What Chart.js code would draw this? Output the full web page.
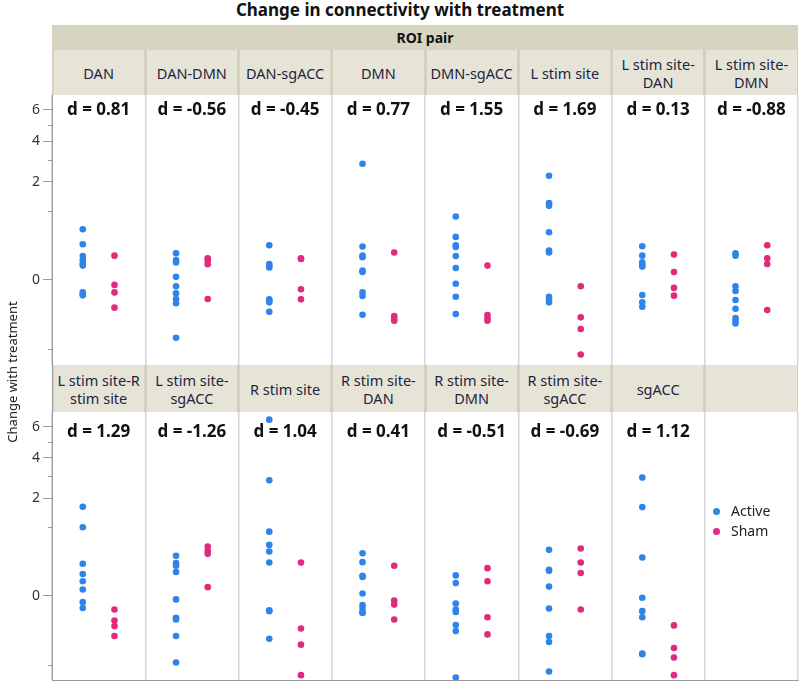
<!DOCTYPE html>
<html>
<head>
<meta charset="utf-8">
<script src="https://cdn.jsdelivr.net/npm/chart.js@4.4.1/dist/chart.umd.min.js"></script>
<style>
    body { margin: 0; background: #fff; font-family: "Noto Sans", sans-serif; }
    #page { position: relative; width: 800px; height: 683px; overflow: hidden; }
    .abs { position: absolute; }
    #title { left: 0; top: 0; width: 800px; text-align: center; font-weight: bold; font-size: 17px; line-height: 20px; color: #111; }
    #roiBand { left: 52px; top: 25px; width: 746px; height: 25px; background: #d7d4c1; text-align: center; font-weight: bold; font-size: 14px; line-height: 25px; color: #111; }
    .hdrRow { left: 52px; width: 746px; background: #d3d0bd; }
    .hdrCell { position: absolute; top: 0; bottom: 0; background: #e6e4d7; display: flex; align-items: center; justify-content: center; text-align: center; font-size: 14.5px; line-height: 18px; color: #1e2440; }
    .plot { left: 0; width: 800px; }
    #axisGap { left: 52px; top: 365px; width: 1px; height: 47px; background: #9a9a9a; }
    #yTitle { left: -88px; top: 362px; width: 200px; height: 20px; line-height: 20px; text-align: center; font-size: 13px; color: #222; transform: rotate(-90deg); }
    #legend { left: 713px; top: 501px; font-size: 14px; line-height: 20px; color: #222; }
    .legItem { display: flex; align-items: center; }
    .legDot { width: 7px; height: 7px; border-radius: 50%; margin-right: 11px; }
</style>
</head>
<body>
<div id="page">
    <div id="title" class="abs">Change in connectivity with treatment</div>
    <div id="roiBand" class="abs">ROI pair</div>
    <div id="hdrTop" class="abs hdrRow" style="top:50px;height:45px;"></div>
    <div id="hdrBottom" class="abs hdrRow" style="top:365px;height:47px;"></div>
    <div id="axisGap" class="abs"></div>
    <div class="abs plot" style="top:95px;height:270px;"><canvas id="rowTop"></canvas></div>
    <div class="abs plot" style="top:412px;height:269px;"><canvas id="rowBottom"></canvas></div>
    <div id="yTitle" class="abs">Change with treatment</div>
    <div id="legend" class="abs"></div>
</div>
<script>
(function() {
    'use strict';

    // ROI pairs, one panel each
    const topPanels = ['DAN', 'DAN-DMN', 'DAN-sgACC', 'DMN', 'DMN-sgACC', 'L stim site', 'L stim site-DAN', 'L stim site-DMN'];
    const bottomPanels = ['L stim site-R stim site', 'L stim site-sgACC', 'R stim site', 'R stim site-DAN', 'R stim site-DMN', 'R stim site-sgACC', 'sgACC'];

    // effect sizes shown in each panel
    const topD = [0.81, -0.56, -0.45, 0.77, 1.55, 1.69, 0.13, -0.88];
    const bottomD = [1.29, -1.26, 1.04, 0.41, -0.51, -0.69, 1.12];

    const groups = ['Active', 'Sham'];

    // change with treatment, per panel
    const topActive = [
        [0.534, 0.265, 0.120, 0.083, 0.058, 0.043, -0.032, -0.041, -0.049],
        [0.148, 0.083, 0.063, 0.002, -0.008, -0.037, -0.075, -0.113, -0.692],
        [0.250, 0.053, 0.041, 0.032, -0.078, -0.092, -0.104, -0.209],
        [2.80, 0.231, 0.123, 0.107, 0.018, 0.013, -0.032, -0.053, -0.250],
        [0.835, 0.385, 0.250, 0.227, 0.120, 0.030, -0.003, -0.058, -0.241],
        [2.253, 1.224, 1.140, 0.473, 0.179, 0.156, -0.058, -0.078, -0.104],
        [0.236, 0.123, 0.065, 0.047, 0.037, -0.047, -0.104, -0.148],
        [0.148, 0.123, -0.008, -0.025, -0.083, -0.171, -0.301, -0.344, -0.391]
    ];
    const topSham = [
        [0.123, -0.005, -0.032, -0.159],
        [0.098, 0.078, 0.051, -0.075],
        [0.098, 0.092, -0.018, -0.078],
        [0.156, -0.270, -0.306, -0.344],
        [0.043, -0.255, -0.306, -0.344],
        [-0.008, -0.290, -0.500, -1.151],
        [0.134, 0.013, -0.013, -0.051],
        [0.250, 0.098, 0.053, -0.187]
    ];
    const bottomActive = [
        [1.662, 0.982, 0.213, 0.098, 0.043, 0.008, -0.009, -0.032],
        [0.333, 0.222, 0.187, 0.117, -0.003, -0.104, -0.120, -0.344, -0.944],
        [6.52, 2.80, 0.862, 0.542, 0.409, 0.231, -0.045, -0.051, -0.391],
        [0.379, 0.236, 0.083, 0.073, 0.001, -0.019, -0.032, -0.056, -0.063],
        [0.086, 0.033, -0.013, -0.041, -0.056, -0.183, -0.265, -1.411],
        [0.441, 0.141, 0.130, 0.017, -0.035, -0.344, -0.453, -1.212],
        [2.932, 1.649, 0.306, -0.001, -0.051, -0.098, -0.709, -0.725]
    ];
    const bottomSham = [
        [-0.041, -0.130, -0.196, -0.344],
        [0.507, 0.422, 0.367, 0.015],
        [0.231, -0.227, -0.507, -1.333],
        [0.187, -0.005, -0.017, -0.120],
        [0.159, 0.043, -0.098, -0.317],
        [0.467, 0.231, 0.107, -0.041],
        [-0.187, -0.578, -0.809, -1.333]
    ];

    // y axis
    const yMin = -1.5;
    const yMax = 7.1;
    const yMajor = [0, 2, 4, 6];
    const yMinor = [-1, 1, 3, 5];

    const groupColors = ['#2f84ea', '#e02a7c'];
    const groupPos = [0.33, 0.67];
    const nCols = 8;

    // signed square-root axis, like the JMP graph builder
    const ssqrt = v => Math.sign(v) * Math.sqrt(Math.abs(v));
    const ssq = t => Math.sign(t) * t * t;

    class SqrtScale extends Chart.LinearScale {
        getPixelForValue(value) {
            const a = ssqrt(this.min), b = ssqrt(this.max);
            return this.getPixelForDecimal((ssqrt(value) - a) / (b - a));
        }
        getValueForPixel(pixel) {
            const a = ssqrt(this.min), b = ssqrt(this.max);
            return ssq(a + this.getDecimalForPixel(pixel) * (b - a));
        }
    }
    SqrtScale.id = 'sqrt';
    SqrtScale.defaults = Chart.LinearScale.defaults;
    Chart.register(SqrtScale);

    // header cells
    function fillHeader(el, names) {
        const colW = 746 / nCols;
        for (let i = 0; i < nCols; i++) {
            const cell = document.createElement('div');
            cell.className = 'hdrCell';
            cell.style.left = (i * colW + 1.5) + 'px';
            cell.style.width = (colW - 3) + 'px';
            cell.textContent = names[i] || '';
            el.appendChild(cell);
        }
    }
    fillHeader(document.getElementById('hdrTop'), topPanels);
    fillHeader(document.getElementById('hdrBottom'), bottomPanels);

    // legend
    const legend = document.getElementById('legend');
    groups.forEach((g, i) => {
        const item = document.createElement('div');
        item.className = 'legItem';
        item.innerHTML = '<span class="legDot" style="background:' + groupColors[i] + '"></span>' + g;
        legend.appendChild(item);
    });

    const panelText = {
        id: 'panelText',
        afterDatasetsDraw(chart, args, opts) {
            const { ctx, chartArea } = chart;
            const x = chart.scales.x;
            const y = chart.scales.y;
            ctx.save();
            ctx.font = 'bold 17px "Noto Sans"';
            ctx.fillStyle = '#111';
            ctx.textAlign = 'center';
            ctx.textBaseline = 'middle';
            opts.values.forEach((d, i) => {
                ctx.fillText('d = ' + d.toFixed(2), x.getPixelForValue(i + 0.5), chartArea.top + opts.offset);
            });
            // minor ticks
            ctx.strokeStyle = '#9a9a9a';
            ctx.lineWidth = 1;
            yMinor.forEach(v => {
                const py = Math.round(y.getPixelForValue(v)) + 0.5;
                ctx.beginPath();
                ctx.moveTo(chartArea.left - 4, py);
                ctx.lineTo(chartArea.left, py);
                ctx.stroke();
            });
            ctx.restore();
        }
    };

    function buildDatasets(active, sham) {
        return [active, sham].map((rows, g) => ({
            label: groups[g],
            data: rows.flatMap((vals, col) => vals.map(v => ({ x: col + groupPos[g], y: v }))),
            backgroundColor: groupColors[g],
            borderWidth: 0,
            pointRadius: 3.3,
            pointHoverRadius: 3.3
        }));
    }

    function noPad(s) {
        s.paddingTop = 0;
        s.paddingBottom = 0;
        s.paddingLeft = 0;
        s.paddingRight = 0;
    }

    function makeRow(id, active, sham, dVals, dOffset, bottomLine) {
        return new Chart(document.getElementById(id), {
            type: 'scatter',
            data: { datasets: buildDatasets(active, sham) },
            options: {
                responsive: true,
                maintainAspectRatio: false,
                animation: false,
                layout: { autoPadding: false, padding: { left: 0, right: 2, top: 0, bottom: bottomLine ? 1 : 0 } },
                plugins: {
                    legend: { display: false },
                    tooltip: { enabled: false },
                    panelText: { values: dVals, offset: dOffset }
                },
                scales: {
                    x: {
                        type: 'linear',
                        min: 0,
                        max: nCols,
                        afterBuildTicks: s => { s.ticks = Array.from({ length: nCols + 1 }, (_, i) => ({ value: i })); },
                        afterFit: s => { s.height = 0; noPad(s); },
                        ticks: { display: false },
                        grid: { color: '#d6d6d6', lineWidth: 1.5, drawTicks: false },
                        border: { display: bottomLine, color: '#9a9a9a' }
                    },
                    y: {
                        type: 'sqrt',
                        min: yMin,
                        max: yMax,
                        afterBuildTicks: s => { s.ticks = yMajor.map(v => ({ value: v })); },
                        afterFit: s => { s.width = 52; noPad(s); },
                        ticks: {
                            color: '#333',
                            padding: 3,
                            font: { family: '"Noto Sans"', size: 14 },
                            callback: v => String(v)
                        },
                        grid: { drawOnChartArea: false, tickLength: 9, tickColor: '#9a9a9a' },
                        border: { color: '#9a9a9a' }
                    }
                }
            },
            plugins: [panelText]
        });
    }

    makeRow('rowTop', topActive, topSham, topD, 15, false);
    makeRow('rowBottom', bottomActive, bottomSham, bottomD, 20, true);
})();
</script>
</body>
</html>
